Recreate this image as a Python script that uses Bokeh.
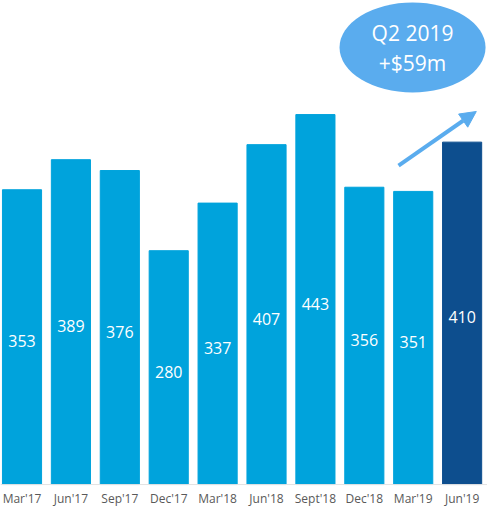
from bokeh.plotting import figure
from bokeh.models import ColumnDataSource, Range1d, Span, Arrow, NormalHead
from bokeh.core.properties import value
from bokeh.embed import file_html
from bokeh.resources import INLINE

categories = ["Mar'17", "Jun'17", "Sep'17", "Dec'17", "Mar'18", "Jun'18",
              "Sept'18", "Dec'18", "Mar'19", "Jun'19"]
values = [353, 389, 376, 280, 337, 407, 443, 356, 351, 410]
bar_colors = ["#00a3dc"] * 9 + ["#0d4e8e"]
callout_lines = ["Q2 2019", "+$59m"]

xs = list(range(len(categories)))
src = ColumnDataSource(dict(
    x=xs,
    top=values,
    color=bar_colors,
    label=[str(v) for v in values],
    mid=[v / 2 for v in values],
    cat=categories,
    cat_y=[-16.2] * len(categories),
))

p = figure(width=487, height=507, output_backend="svg", toolbar_location=None,
           x_range=Range1d(-0.440, 9.519), y_range=Range1d(-27.5, 579.6),
           min_border=0, outline_line_color=None)
p.axis.visible = False
p.grid.visible = False
p.background_fill_color = "white"

p.vbar(x="x", top="top", bottom=0, width=0.8, color="color", source=src)

p.add_layout(Span(location=0, dimension="width", line_color="#e3e3e3", line_width=1))

p.text(x="x", y="mid", text="label", source=src, text_color="white",
       text_font=value("Open Sans"), text_font_size="16px",
       text_align="center", text_baseline="middle", y_offset=4)

p.text(x="x", y="cat_y", text="cat", source=src, text_color="#595959",
       text_font=value("Open Sans"), text_font_size="12px",
       text_align="center", text_baseline="middle")

# callout ellipse
p.ellipse(x=[7.986], y=[523.4], width=[146], height=[90],
          width_units="screen", height_units="screen",
          fill_color="#5aacee", line_color=None)
p.text(x=[7.986, 7.986], y=[540.1, 504.2], text=callout_lines, text_color="white",
       text_font=value("Open Sans"), text_font_size="21px",
       text_align="center", text_baseline="middle")

p.add_layout(Arrow(x_start=7.70, y_start=382.0, x_end=9.29, y_end=446.7,
                   line_color="#5aacee", line_width=4,
                   end=NormalHead(size=16, fill_color="#5aacee", line_color="#5aacee")))

open("out.html", "w").write(file_html(p, INLINE))
